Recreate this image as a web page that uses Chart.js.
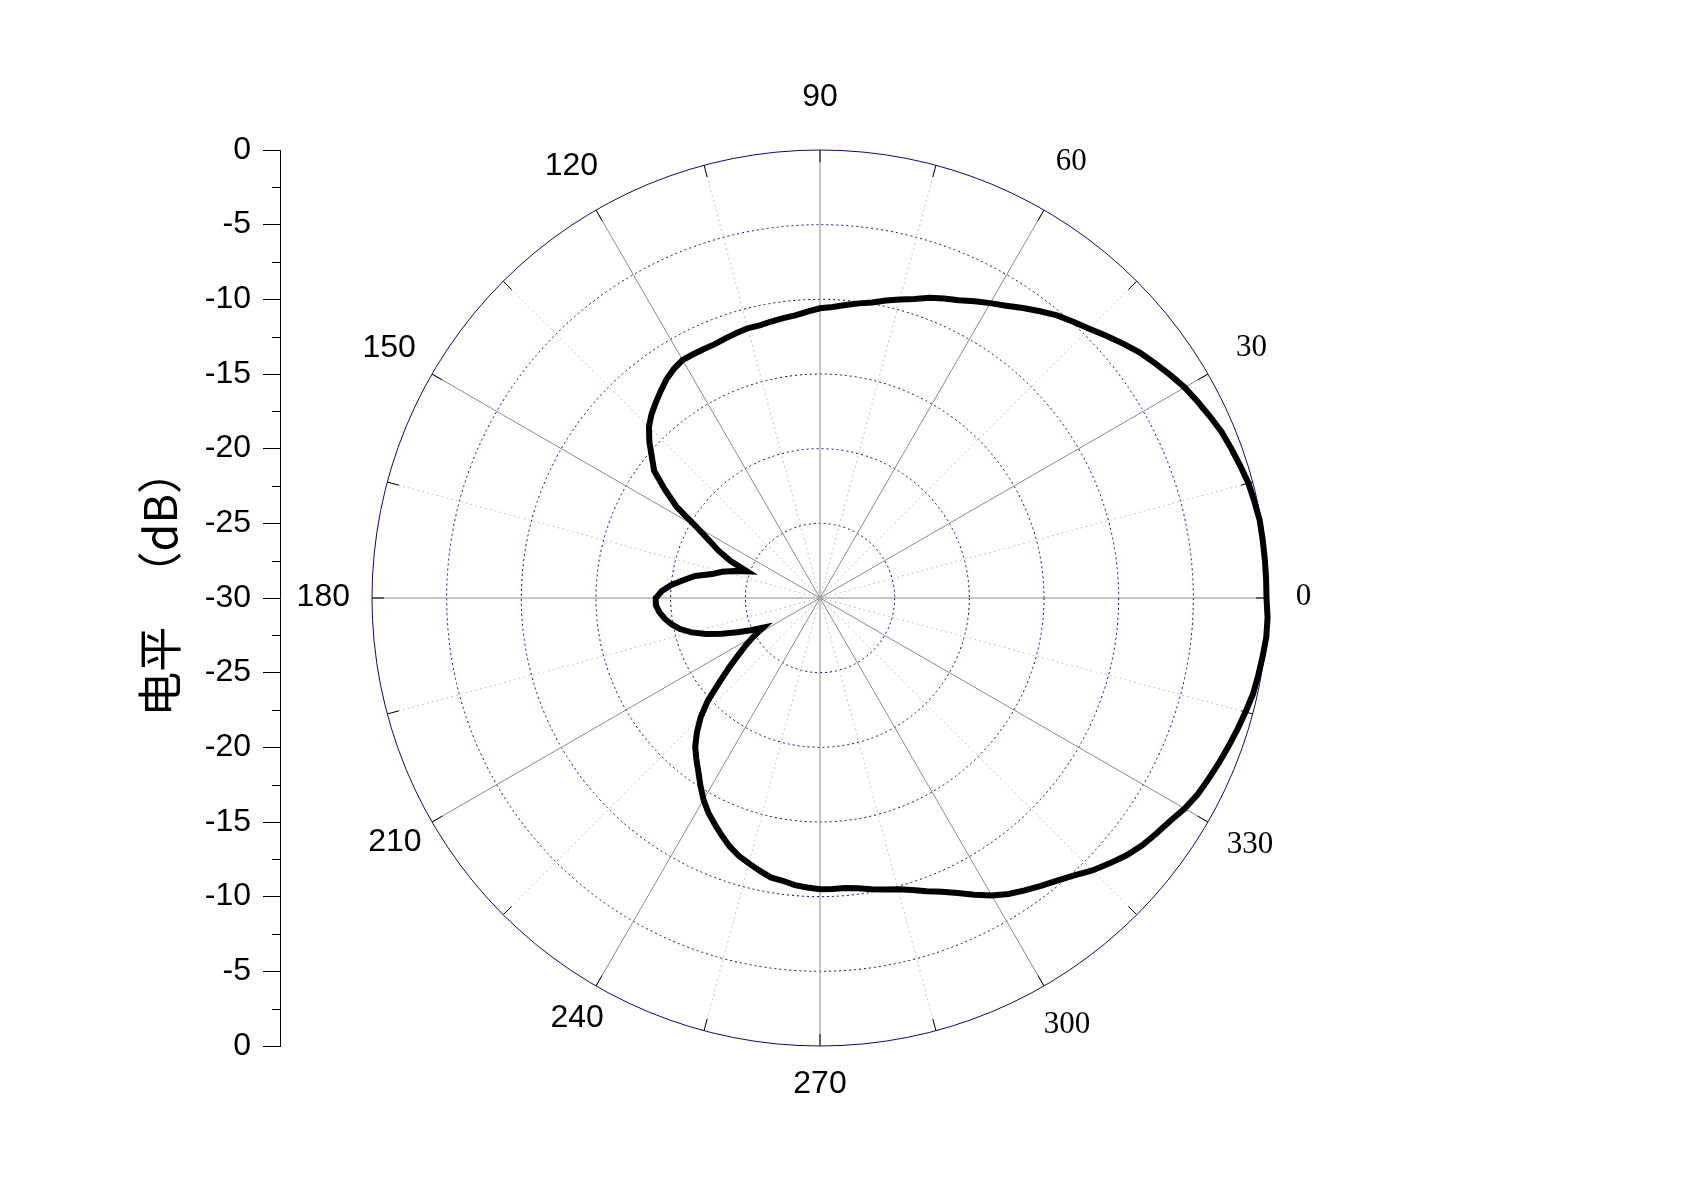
<!DOCTYPE html>
<html>
<head>
<meta charset="utf-8">
<title>电平方向图</title>
<script src="https://cdn.jsdelivr.net/npm/chart.js@4/dist/chart.umd.min.js"></script>
<style>
  html, body { margin: 0; padding: 0; background: #fff; }
  #wrap { width: 1704px; height: 1184px; position: relative; }
</style>
</head>
<body>
<div id="wrap"><canvas id="chartPattern"></canvas></div>
<script>
// angle (deg, CCW from the 0 direction) and measured level (dB)
var angleDeg = [
  0, 2.5, 5, 7.5, 10, 12.5, 15, 17.5, 20, 22.5, 25, 27.5,
  30, 32.5, 35, 37.5, 40, 42.5, 45, 47.5, 50, 52.5, 55, 57.5,
  60, 62.5, 65, 67.5, 70, 72.5, 75, 77.5, 80, 82.5, 85, 87.5,
  90, 92.5, 95, 97.5, 100, 102.5, 105, 107.5, 110, 112.5, 115, 117.5,
  120, 122.5, 125, 127.5, 130, 132.5, 135, 137.5, 140, 142.5, 145, 147.5,
  150, 152.5, 155, 157.5, 160, 162.5, 165, 167.5, 170, 172.5, 175, 177.5,
  180, 182.5, 185, 187.5, 190, 192.5, 195, 197.5, 200, 202.5, 205, 207.5,
  210, 212.5, 215, 217.5, 220, 222.5, 225, 227.5, 230, 232.5, 235, 237.5,
  240, 242.5, 245, 247.5, 250, 252.5, 255, 257.5, 260, 262.5, 265, 267.5,
  270, 272.5, 275, 277.5, 280, 282.5, 285, 287.5, 290, 292.5, 295, 297.5,
  300, 302.5, 305, 307.5, 310, 312.5, 315, 317.5, 320, 322.5, 325, 327.5,
  330, 332.5, 335, 337.5, 340, 342.5, 345, 347.5, 350, 352.5, 355, 357.5
];
var levelDb = [
  -0.1, -0.1, -0.1, -0.1, -0.1, -0.2, -0.3, -0.5, -0.7, -0.9, -1.2, -1.5,
  -1.8, -2.2, -2.6, -3.0, -3.5, -4.0, -4.5, -4.9, -5.3, -5.8, -6.3, -6.8,
  -7.2, -7.6, -8.0, -8.3, -8.6, -9.0, -9.3, -9.6, -9.9, -10.1, -10.3, -10.5,
  -10.6, -10.8, -11.0, -11.1, -11.2, -11.3, -11.3, -11.4, -11.5, -11.6, -11.6, -11.6,
  -11.6, -11.8, -12.1, -12.5, -12.9, -13.3, -13.8, -14.5, -15.3, -16.0, -17.3, -18.6,
  -20.4, -21.6, -22.5, -23.5, -24.8, -24.0, -23.2, -22.6, -21.5, -20.8, -20.0, -19.4,
  -19.0, -19.0, -19.2, -19.5, -19.9, -20.4, -21.1, -22.0, -23.0, -24.0, -24.9, -25.7,
  -24.9, -24.1, -23.3, -22.3, -21.2, -19.8, -18.7, -17.8, -17.0, -16.4, -15.8, -15.1,
  -14.4, -13.8, -13.3, -12.8, -12.3, -11.9, -11.6, -11.3, -11.0, -10.9, -10.7, -10.6,
  -10.5, -10.5, -10.5, -10.4, -10.2, -10.0, -9.8, -9.5, -9.1, -8.7, -8.2, -7.6,
  -7.0, -6.5, -6.1, -5.7, -5.3, -4.8, -4.2, -3.7, -3.2, -2.8, -2.5, -2.2,
  -1.8, -1.5, -1.3, -1.1, -0.9, -0.7, -0.5, -0.3, -0.2, -0.1, 0.0, 0.0
];
var angleTicks = [0, 30, 60, 90, 120, 150, 180, 210, 240, 270, 300, 330];
var serifTicks = [0, 30, 60, 300, 330];
var levelMin = -30, levelMax = 0, levelStep = 5;

(function () {
  if (typeof Chart === 'undefined') return;

  var STEP = 2.5;
  var N = angleDeg.length;
  // radar goes clockwise from startAngle, so feed angles in decreasing order
  var order = angleDeg.map(function (a, i) { return (N - i) % N; });
  var labels = order.map(function (k) { return angleDeg[k]; });
  var values = order.map(function (k) { return levelDb[k]; });

  function angleOfIndex(i) { return (360 - i * STEP) % 360; }
  function indexOfAngle(a) { return ((360 - a) % 360) / STEP; }

  var sansFont = "'Liberation Sans', Arial, sans-serif";
  var serifFont = "'Liberation Serif', 'Times New Roman', serif";

  var extras = {
    id: 'extras',
    beforeDatasetsDraw: function (chart) {
      var r = chart.scales.r, ctx = chart.ctx;
      ctx.save();
      ctx.strokeStyle = '#000';
      ctx.lineWidth = 1;
      for (var a = 0; a < 360; a += 15) {
        var i = indexOfAngle(a);
        var p1 = r.getPointPosition(i, r.drawingArea - 12);
        var p2 = r.getPointPosition(i, r.drawingArea);
        ctx.beginPath();
        ctx.moveTo(p1.x, p1.y);
        ctx.lineTo(p2.x, p2.y);
        ctx.stroke();
      }
      ctx.restore();
    },
    afterDraw: function (chart) {
      var r = chart.scales.r, y = chart.scales.y, ctx = chart.ctx;
      ctx.save();
      // angle labels around the circle, pushed out by their own size
      ctx.fillStyle = '#000';
      ctx.textAlign = 'center';
      ctx.textBaseline = 'middle';
      angleTicks.forEach(function (a) {
        var serif = serifTicks.indexOf(a) >= 0;
        ctx.font = serif ? '31px ' + serifFont : '32px ' + sansFont;
        var w = ctx.measureText(String(a)).width;
        var rad = a * Math.PI / 180;
        var across = 0.35 * w * Math.abs(Math.cos(rad));
        var along = 15.5 * Math.abs(Math.sin(rad));
        var gap = 30 + (serif ? across + along : Math.max(across, along)) + 6.5 * Math.sin(rad);
        var p = r.getPointPosition(indexOfAngle(a), r.drawingArea + gap);
        ctx.fillText(String(a), p.x, p.y - 1);
      });
      // minor ticks of the left level axis
      ctx.strokeStyle = '#000';
      ctx.lineWidth = 1;
      for (var v = y.min + levelStep / 2; v < y.max; v += levelStep) {
        var py = Math.round(y.getPixelForValue(v)) + 0.5;
        ctx.beginPath();
        ctx.moveTo(y.right - 8, py);
        ctx.lineTo(y.right, py);
        ctx.stroke();
      }
      ctx.restore();
    }
  };

  try {
    new Chart(document.getElementById('chartPattern'), {
      type: 'radar',
      data: {
        labels: labels,
        datasets: [{
          label: '电平',
          data: values,
          borderColor: '#000',
          borderWidth: 6,
          backgroundColor: 'transparent',
          fill: false,
          pointRadius: 0,
          pointHitRadius: 0,
          tension: 0
        }]
      },
      options: {
        responsive: true,
        maintainAspectRatio: false,
        animation: false,
        layout: { padding: { left: 0, top: 150, right: 344, bottom: 138 } },
        plugins: { legend: { display: false }, tooltip: { enabled: false } },
        scales: {
          r: {
            min: levelMin,
            max: levelMax,
            startAngle: 90,
            ticks: { display: false, stepSize: levelStep },
            pointLabels: { display: false },
            grid: {
              circular: true,
              lineWidth: 1,
              color: function (c) { return c.tick && c.tick.value === levelMax ? '#0a0a70' : '#000090'; }
            },
            border: {
              dash: function (c) { return c.tick && c.tick.value === levelMax ? [] : [2, 3]; }
            },
            angleLines: {
              display: true,
              color: function (c) { return angleOfIndex(c.index) % 30 === 0 ? '#8a8a8a' : '#c4c4c4'; },
              lineWidth: function (c) { return angleOfIndex(c.index) % 15 === 0 ? 1 : 0; },
              borderDash: function (c) { return angleOfIndex(c.index) % 30 === 0 ? [] : [2, 3]; }
            }
          },
          y: {
            type: 'linear',
            position: 'left',
            min: levelMin,
            max: -levelMin,
            afterFit: function (s) { s.width = 280; },
            ticks: {
              stepSize: levelStep,
              padding: 12,
              color: '#000',
              font: { family: sansFont, size: 32 },
              callback: function (v) { return Math.abs(v) + levelMin; }
            },
            grid: { drawOnChartArea: false, drawTicks: true, tickLength: 17, tickColor: '#000', tickWidth: 1 },
            border: { display: true, color: '#000', width: 1 },
            title: {
              display: true,
              text: '   电平   （dB）',
              color: '#000',
              font: { family: "'Noto Sans CJK SC', sans-serif", size: 45, weight: 'normal' },
              padding: { top: 133, bottom: 0 }
            }
          }
        }
      },
      plugins: [extras]
    });
  } catch (e) { console.error('chartPattern', e); }
})();
</script>
</body>
</html>
